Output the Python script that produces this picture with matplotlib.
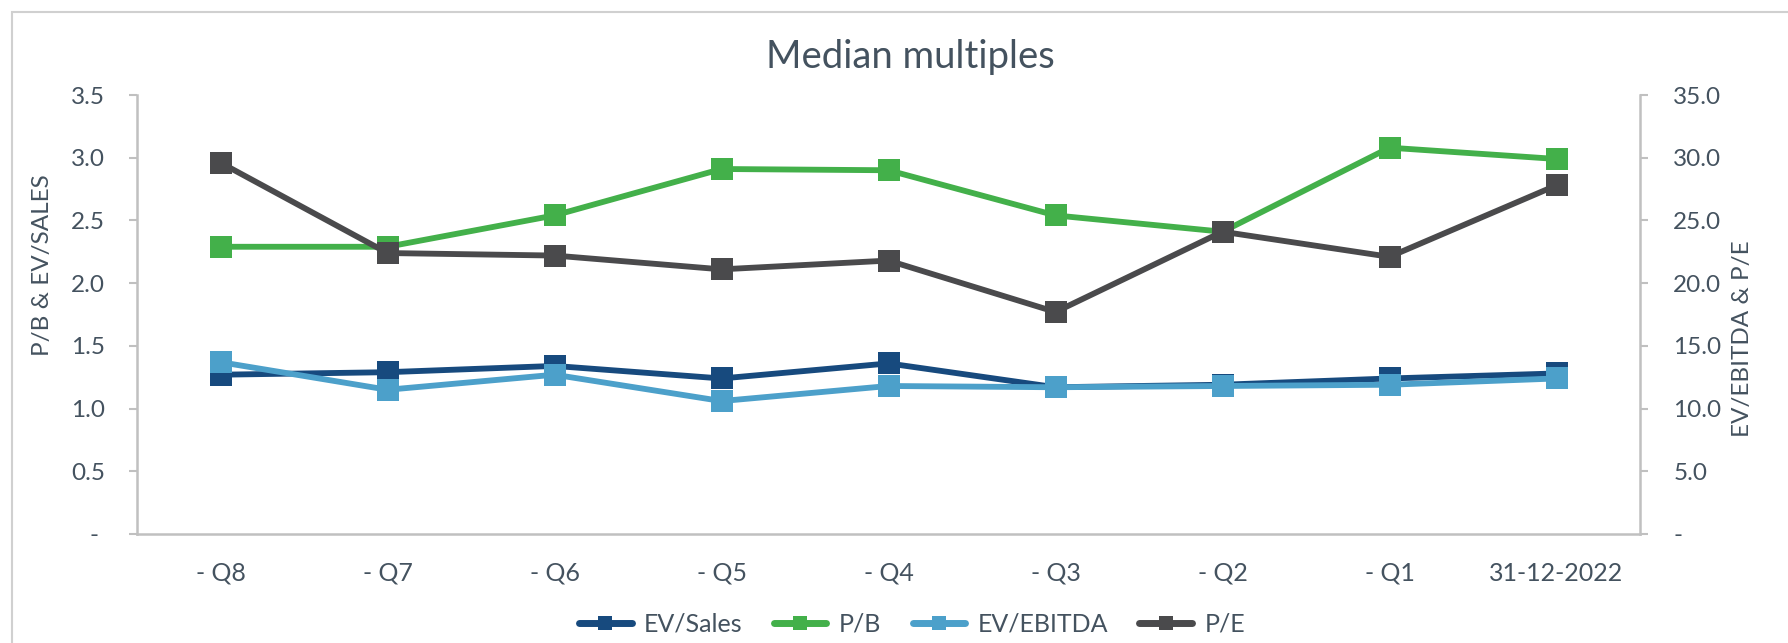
import matplotlib
matplotlib.use("Agg")
import matplotlib.pyplot as plt
from matplotlib.lines import Line2D
from matplotlib.patches import Rectangle

# ---- data ----
categories = ['- Q8', '- Q7', '- Q6', '- Q5', '- Q4', '- Q3', '- Q2', '- Q1', '31-12-2022']
ev_sales = [1.27, 1.29, 1.34, 1.24, 1.36, 1.17, 1.19, 1.24, 1.28]
pb = [2.29, 2.29, 2.54, 2.91, 2.90, 2.54, 2.41, 3.08, 2.99]
ev_ebitda = [13.7, 11.5, 12.7, 10.6, 11.8, 11.7, 11.8, 11.9, 12.4]
pe = [29.6, 22.4, 22.2, 21.1, 21.8, 17.7, 24.1, 22.1, 27.8]

left_ticks = [0, 0.5, 1.0, 1.5, 2.0, 2.5, 3.0, 3.5]
left_labels = ['- ', '0.5', '1.0', '1.5', '2.0', '2.5', '3.0', '3.5']
right_ticks = [0, 5, 10, 15, 20, 25, 30, 35]
right_labels = ['-', '5.0', '10.0', '15.0', '20.0', '25.0', '30.0', '35.0']

series_names = ['EV/Sales', 'P/B', 'EV/EBITDA', 'P/E']
colors = ['#174a7e', '#43b04a', '#4ca0ca', '#4a4a4c']

# ---- style ----
plt.rcParams['font.family'] = ['Lato', 'DejaVu Sans']
TXT = '#44525f'
SPINE = '#c0c0c0'
FS = 17.5

W, H = 1788, 643
fig = plt.figure(figsize=(W / 100, H / 100), dpi=100)
ax = fig.add_axes([137 / W, 1 - 534 / H, (1640 - 137) / W, (534 - 95) / H])
ax2 = ax.twinx()

x = list(range(len(categories)))
LW = 4.2
MS = 16.5
ax.plot(x, ev_sales, color=colors[0], lw=LW, marker='s', ms=MS, mew=0, zorder=3)
ax.plot(x, pb, color=colors[1], lw=LW, marker='s', ms=MS, mew=0, zorder=4)
ax2.plot(x, ev_ebitda, color=colors[2], lw=LW, marker='s', ms=MS, mew=0, zorder=3)
ax2.plot(x, pe, color=colors[3], lw=LW, marker='s', ms=MS, mew=0, zorder=4)

ax.set_xlim(-0.5, len(categories) - 0.5)
ax.set_ylim(0, 3.5)
ax2.set_ylim(0, 35)

ax.set_xticks(x)
ax.set_xticklabels(categories)
ax.set_yticks(left_ticks)
ax.set_yticklabels(left_labels)
ax2.set_yticks(right_ticks)
ax2.set_yticklabels(right_labels)

for a in (ax, ax2):
    for s in a.spines.values():
        s.set_visible(False)
    a.tick_params(colors=SPINE, labelcolor=TXT, labelsize=FS, width=1.5)

ax.spines['left'].set_visible(True)
ax.spines['bottom'].set_visible(True)
ax2.spines['right'].set_visible(True)
for s in (ax.spines['left'], ax.spines['bottom'], ax2.spines['right']):
    s.set_color(SPINE)
    s.set_linewidth(1.8)

ax.tick_params(axis='x', length=0, pad=20, labelsize=18)
ax.tick_params(axis='y', length=6, pad=17)
ax2.tick_params(axis='y', length=6, pad=18)

# title and axis labels
fig.text(910 / W, 1 - 57 / H, 'Median multiples', ha='center', va='center',
         fontsize=27.5, color=TXT)
fig.text(43 / W, 1 - 265 / H, 'P/B & EV/SALES', rotation=90, ha='center',
         va='center', fontsize=FS, color=TXT)
fig.text(1743 / W, 1 - 339 / H, 'EV/EBITDA & P/E', rotation=90, ha='center',
         va='center', fontsize=FS, color=TXT)

# legend
handles = [Line2D([0], [0], color=c, lw=5, marker='s', ms=10.5, mew=0,
                  solid_capstyle='round') for c in colors]
leg = fig.legend(handles, series_names, loc='center', ncol=4, frameon=False,
                 bbox_to_anchor=(912 / W, 1 - 624 / H), fontsize=18,
                 handlelength=2.1, handletextpad=0.5, columnspacing=1.25)
for t in leg.get_texts():
    t.set_color(TXT)

# chart border
fig.add_artist(Rectangle((12 / W, -0.2), 1.2, 1.2 - 12 / H, transform=fig.transFigure,
                         fill=False, edgecolor='#d0d0d0', lw=1.5))

fig.savefig('out.png', dpi=100, facecolor='white')
